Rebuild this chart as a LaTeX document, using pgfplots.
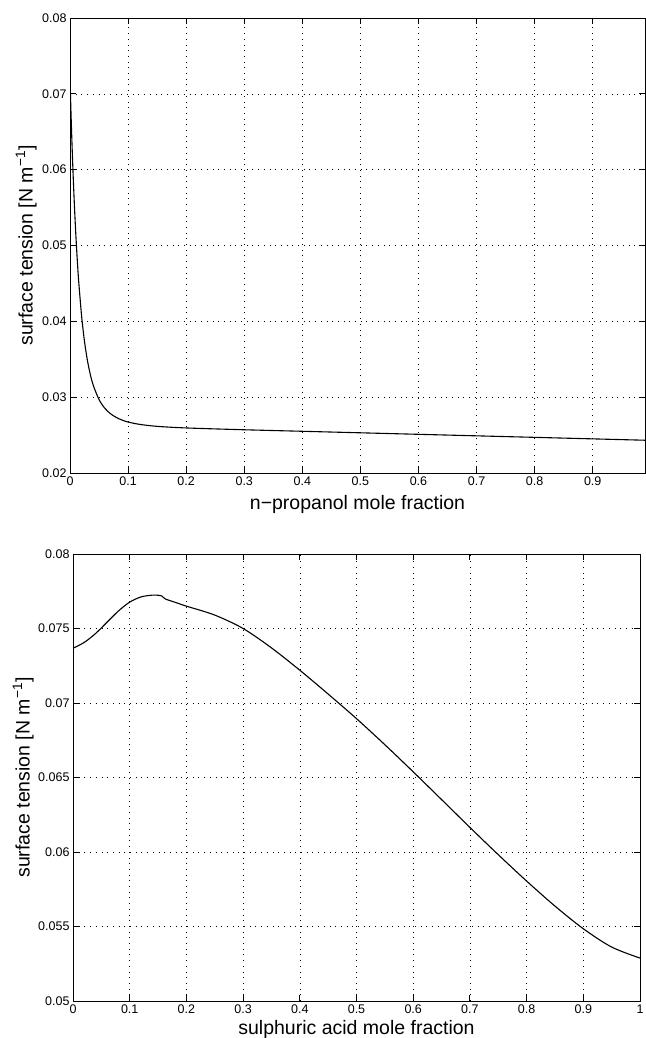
\documentclass[border=0pt]{standalone}
\usepackage{fontspec}
\setmainfont{Liberation Sans}
\usepackage{pgfplots}
\pgfplotsset{compat=1.18}
\pgfplotsset{mstyle/.style={
  scale only axis,
  scaled ticks=false,
  axis line style={black, line width=0.9pt},
  every tick/.style={black, line width=0.9pt},
  major tick length=6pt,
  tick align=inside,
  grid=major,
  major grid style={black, line width=0.55pt, dash pattern=on 0.9pt off 4.8pt},
  tick label style={font=\fontsize{12.5}{15}\selectfont},
  /pgf/number format/assume math mode=true,
  yticklabel style={/pgf/number format/fixed, /pgf/number format/precision=3},
  xticklabel style={/pgf/number format/fixed, /pgf/number format/precision=3},
  label style={font=\fontsize{19.5}{23}\selectfont, inner sep=0pt},
}}
\begin{document}
\begin{tikzpicture}
\path[use as bounding box] (0,0) rectangle (645pt,1038pt);
\begin{axis}[mstyle,
  at={(70pt,565pt)}, anchor=south west,
  width=575pt, height=455pt,
  xmin=0, xmax=0.99, ymin=0.02, ymax=0.08,
  xtick={0,0.1,0.2,0.3,0.4,0.5,0.6,0.7,0.8,0.9},
  ytick={0.02,0.03,0.04,0.05,0.06,0.07,0.08},
  xlabel={n−propanol mole fraction},
  ylabel={surface tension [N m\textsuperscript{−1}]},
  xlabel style={at={(axis description cs:0.5,0)}, anchor=base, yshift=-37pt},
  ylabel style={at={(axis description cs:-0.0574,0.5)}, anchor=south},
]
\addplot[black, line width=1.1pt, smooth, tension=0.5] coordinates {
(0,0.0720) (0.0025,0.06556) (0.005,0.06009) (0.0075,0.05545) (0.010,0.05149)
(0.0125,0.04812) (0.015,0.04524) (0.020,0.04068) (0.025,0.03732) (0.030,0.03484)
(0.035,0.03298) (0.040,0.03157) (0.050,0.02968) (0.060,0.02853) (0.070,0.02780)
(0.080,0.02731) (0.090,0.02697) (0.100,0.02672) (0.120,0.02641) (0.150,0.02615)
(0.200,0.02594) (0.300,0.02570) (0.400,0.02550) (0.500,0.02530) (0.600,0.02510)
(0.700,0.02490) (0.800,0.02470) (0.900,0.02450) (0.990,0.02432)
};
\end{axis}
\begin{axis}[mstyle,
  at={(73pt,37pt)}, anchor=south west,
  width=567pt, height=447pt,
  xmin=0, xmax=1, ymin=0.05, ymax=0.08,
  xtick={0,0.1,0.2,0.3,0.4,0.5,0.6,0.7,0.8,0.9,1},
  ytick={0.05,0.055,0.06,0.065,0.07,0.075,0.08},
  xlabel={sulphuric acid mole fraction},
  ylabel={surface tension [N m\textsuperscript{−1}]},
  xlabel style={at={(axis description cs:0.5,0)}, anchor=base, yshift=-33pt},
  ylabel style={at={(axis description cs:-0.0688,0.5)}, anchor=south},
]
\addplot[black, line width=1.1pt, smooth, tension=0.5] coordinates {
(0,0.07367) (0.02,0.07407) (0.04,0.07467) (0.06,0.07542) (0.08,0.07617)
(0.10,0.07677) (0.12,0.07712) (0.14,0.07724) (0.15,0.07723) (0.157,0.07718)
};
\addplot[black, line width=1.1pt, smooth, tension=0.5] coordinates {
(0.157,0.07718) (0.163,0.07698) (0.18,0.07676) (0.20,0.07650) (0.25,0.07590)
(0.30,0.07500) (0.35,0.07370) (0.40,0.07220) (0.45,0.07060) (0.50,0.06895)
(0.55,0.06720) (0.60,0.06538) (0.65,0.06352) (0.70,0.06165) (0.75,0.05982)
(0.80,0.05805) (0.85,0.05637) (0.90,0.05485) (0.95,0.05362) (1.00,0.05288)
};
\end{axis}
\end{tikzpicture}
\end{document}
